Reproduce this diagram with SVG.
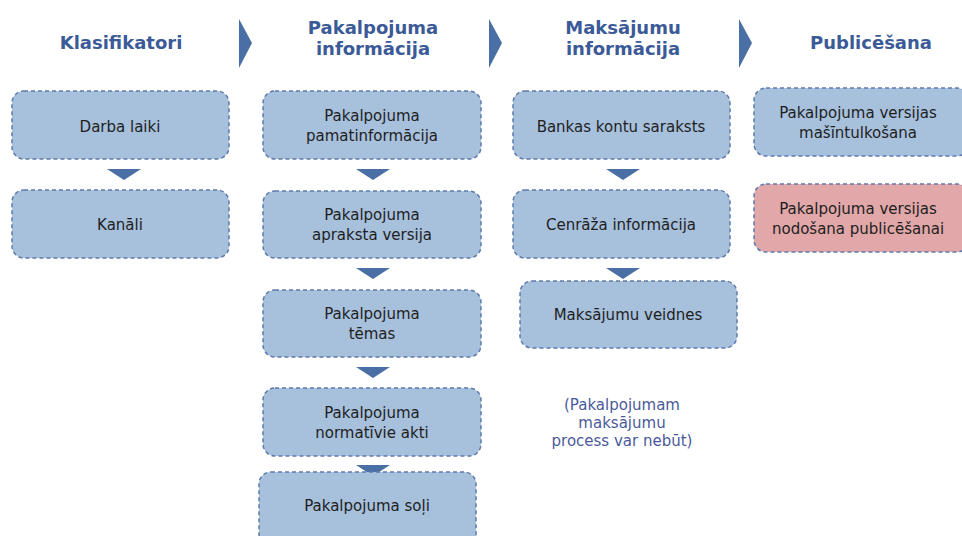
<svg xmlns="http://www.w3.org/2000/svg" width="962" height="536" viewBox="0 0 962 536">
<style>
.box{fill:#a7c0dc;stroke:#5e7bab;stroke-width:1.5;stroke-dasharray:4 3}
.pink{fill:#e1a7a9}
.t{font-family:"DejaVu Sans",Verdana,sans-serif;font-size:15px;fill:#1e1e1e;text-anchor:middle}
.h{font-family:"DejaVu Sans",Verdana,sans-serif;font-size:18px;font-weight:bold;fill:#3b5a97;text-anchor:middle}
.n{font-family:"DejaVu Sans",Verdana,sans-serif;font-size:15px;fill:#4a5a9a;text-anchor:middle}
.arr{fill:#4a6fa5}
</style>
<rect width="962" height="536" fill="#ffffff"/>
<g id="headers">
<text class="h" x="121" y="49">Klasifikatori</text>
<text class="h" x="373" y="34">Pakalpojuma</text>
<text class="h" x="373" y="55">informācija</text>
<text class="h" x="623" y="34">Maksājumu</text>
<text class="h" x="623" y="55">informācija</text>
<text class="h" x="871" y="49">Publicēšana</text>
</g>
<g id="connectors">
<polygon class="arr" points="239,19 252,43 239,68"/>
<polygon class="arr" points="489,19 502,43 489,68"/>
<polygon class="arr" points="739,19 752,43 739,68"/>
<polygon class="arr" points="107,169 141,169 124,180"/>
<polygon class="arr" points="356,169 390,169 373,180"/>
<polygon class="arr" points="356,268 390,268 373,279"/>
<polygon class="arr" points="356,367 390,367 373,378"/>
<polygon class="arr" points="356,465 390,465 373,476"/>
<polygon class="arr" points="606,169 640,169 623,180"/>
<polygon class="arr" points="606,268 640,268 623,279"/>
</g>
<g id="n1"><rect class="box" x="12" y="91" width="217" height="68" rx="12"/><text class="t" x="120" y="132">Darba laiki</text></g>
<g id="n2"><rect class="box" x="12" y="190" width="217" height="68" rx="12"/><text class="t" x="120" y="230">Kanāli</text></g>
<g id="n3"><rect class="box" x="263" y="91" width="218" height="68" rx="12"/><text class="t" x="372" y="121">Pakalpojuma</text><text class="t" x="372" y="141">pamatinformācija</text></g>
<g id="n4"><rect class="box" x="263" y="191" width="218" height="67" rx="12"/><text class="t" x="372" y="220">Pakalpojuma</text><text class="t" x="372" y="240">apraksta versija</text></g>
<g id="n5"><rect class="box" x="263" y="290" width="218" height="67" rx="12"/><text class="t" x="372" y="319">Pakalpojuma</text><text class="t" x="372" y="339">tēmas</text></g>
<g id="n6"><rect class="box" x="263" y="388" width="218" height="68" rx="12"/><text class="t" x="372" y="418">Pakalpojuma</text><text class="t" x="372" y="438">normatīvie akti</text></g>
<g id="n7"><rect class="box" x="259" y="472" width="217" height="74" rx="12"/><text class="t" x="367" y="511">Pakalpojuma soļi</text></g>
<g id="n8"><rect class="box" x="513" y="91" width="217" height="68" rx="12"/><text class="t" x="621" y="132">Bankas kontu saraksts</text></g>
<g id="n9"><rect class="box" x="513" y="190" width="217" height="68" rx="12"/><text class="t" x="621" y="230">Cenrāža informācija</text></g>
<g id="n10"><rect class="box" x="520" y="281" width="217" height="67" rx="12"/><text class="t" x="628" y="320">Maksājumu veidnes</text></g>
<g id="n11"><rect class="box" x="754" y="88" width="215" height="68" rx="12"/><text class="t" x="858" y="118">Pakalpojuma versijas</text><text class="t" x="858" y="138">mašīntulkošana</text></g>
<g id="n12"><rect class="box pink" x="754" y="184" width="215" height="68" rx="12"/><text class="t" x="858" y="214">Pakalpojuma versijas</text><text class="t" x="858" y="234">nodošana publicēšanai</text></g>
<g id="note">
<text class="n" x="622" y="410">(Pakalpojumam</text>
<text class="n" x="622" y="428">maksājumu</text>
<text class="n" x="622" y="446">process var nebūt)</text>
</g>
</svg>
